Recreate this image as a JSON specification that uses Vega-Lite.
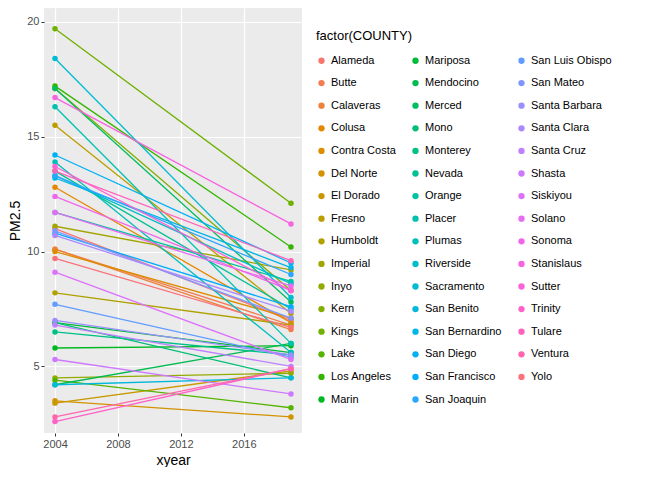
{
  "$schema": "https://vega.github.io/schema/vega-lite/v6.json",
  "width": 258,
  "height": 425,
  "padding": {"left": 8, "top": 8, "right": 0, "bottom": 0},
  "config": {
    "font": "Liberation Sans",
    "view": {"fill": "#EBEBEB", "stroke": null},
    "axis": {"gridColor": "#FFFFFF", "gridWidth": 1.2, "domain": false, "tickColor": "#333333", "tickSize": 3, "labelColor": "#4D4D4D", "labelFontSize": 11, "titleFontSize": 14, "titleFontWeight": "normal", "titleColor": "#000000"}
  },
  "data": {"values": [
    {"c":"Alameda","s":11.0,"e":7.0},{"c":"Butte","s":10.1,"e":6.8},{"c":"Calaveras","s":10.1,"e":6.6},
    {"c":"Colusa","s":12.8,"e":6.9},{"c":"Contra Costa","s":10.0,"e":7.1},{"c":"Del Norte","s":3.5,"e":2.8},
    {"c":"El Dorado","s":3.4,"e":4.8},{"c":"Fresno","s":15.5,"e":7.3},{"c":"Humboldt","s":8.2,"e":6.8},
    {"c":"Imperial","s":11.1,"e":9.2},{"c":"Inyo","s":4.5,"e":4.7},{"c":"Kern","s":17.1,"e":8.3},
    {"c":"Kings","s":19.7,"e":12.1},{"c":"Lake","s":4.4,"e":3.2},{"c":"Los Angeles","s":17.2,"e":10.2},
    {"c":"Marin","s":5.8,"e":5.9},{"c":"Mariposa","s":6.9,"e":5.6},{"c":"Mendocino","s":4.2,"e":6.0},
    {"c":"Merced","s":17.1,"e":7.8},{"c":"Mono","s":6.9,"e":4.5},{"c":"Monterey","s":6.5,"e":5.5},
    {"c":"Nevada","s":13.5,"e":7.5},{"c":"Orange","s":11.7,"e":8.7},{"c":"Placer","s":16.3,"e":6.0},
    {"c":"Plumas","s":13.9,"e":5.6},{"c":"Riverside","s":13.3,"e":8.6},{"c":"Sacramento","s":18.4,"e":8.0},
    {"c":"San Benito","s":4.2,"e":4.5},{"c":"San Bernardino","s":13.2,"e":9.3},{"c":"San Diego","s":14.2,"e":9.5},
    {"c":"San Francisco","s":10.8,"e":7.6},{"c":"San Joaquin","s":13.3,"e":9.0},{"c":"San Luis Obispo","s":7.7,"e":5.4},
    {"c":"San Mateo","s":10.9,"e":7.1},{"c":"Santa Barbara","s":7.0,"e":5.5},{"c":"Santa Clara","s":10.7,"e":7.4},
    {"c":"Santa Cruz","s":6.8,"e":5.0},{"c":"Shasta","s":5.3,"e":3.8},{"c":"Siskiyou","s":9.1,"e":5.3},
    {"c":"Solano","s":11.7,"e":8.5},{"c":"Sonoma","s":12.4,"e":8.3},{"c":"Stanislaus","s":16.7,"e":11.2},
    {"c":"Sutter","s":13.7,"e":8.3},{"c":"Trinity","s":2.6,"e":4.9},{"c":"Tulare","s":13.5,"e":9.6},
    {"c":"Ventura","s":2.8,"e":4.9},{"c":"Yolo","s":9.7,"e":6.7}
  ]},
  "transform": [{"fold": ["s", "e"], "as": ["k", "pm"]}, {"lookup": "k", "from": {"data": {"values": [{"k": "s", "yr": 2004}, {"k": "e", "yr": 2019}]}, "key": "k", "fields": ["yr"]}}],
  "encoding": {
    "x": {"field": "yr", "type": "quantitative", "title": "xyear", "scale": {"domain": [2003.3, 2019.7], "nice": false, "zero": false}, "axis": {"values": [2004, 2008, 2012, 2016], "format": "d"}},
    "y": {"field": "pm", "type": "quantitative", "title": "PM2.5", "scale": {"domain": [2.1, 20.6], "nice": false, "zero": false}, "axis": {"values": [5, 10, 15, 20]}},
    "color": {
      "field": "c", "type": "nominal", "title": "factor(COUNTY)",
      "scale": {
        "domain": ["Alameda","Butte","Calaveras","Colusa","Contra Costa","Del Norte","El Dorado","Fresno","Humboldt","Imperial","Inyo","Kern","Kings","Lake","Los Angeles","Marin","Mariposa","Mendocino","Merced","Mono","Monterey","Nevada","Orange","Placer","Plumas","Riverside","Sacramento","San Benito","San Bernardino","San Diego","San Francisco","San Joaquin","San Luis Obispo","San Mateo","Santa Barbara","Santa Clara","Santa Cruz","Shasta","Siskiyou","Solano","Sonoma","Stanislaus","Sutter","Trinity","Tulare","Ventura","Yolo"],
        "range": ["#F8766D","#F27D52","#EC823C","#E58700","#DC8D00","#D39200","#C99800","#BB9D00","#B0A100","#A2A600","#93AA00","#83AD00","#6FB000","#56B400","#34B600","#00B81F","#00BA38","#00BB4E","#00BD62","#00BE75","#00C086","#00C094","#00C1A2","#00C0AF","#00BFBB","#00BEC5","#00BBD1","#00B8DC","#00B5E7","#00B1F3","#00ACFC","#2AA6FF","#619CFF","#7F96FF","#998FFF","#AC88FF","#BE80FF","#CE78FF","#DC71FA","#E76BF3","#F066EA","#F763E0","#FC61D5","#FF61C9","#FF62BC","#FF64AF","#FB727B"]
      },
      "legend": {"orient": "none", "legendX": 272, "legendY": 22, "columns": 3, "symbolLimit": 0, "symbolType": "circle", "symbolSize": 40, "symbolStrokeWidth": 0, "labelFontSize": 11, "labelColor": "#000000", "titleFontSize": 13, "titleFontWeight": "normal", "titleColor": "#000000", "titlePadding": 12, "rowPadding": 10.6, "columnPadding": 14, "labelLimit": 120}
    },
    "detail": {"field": "c"}
  },
  "layer": [
    {"mark": {"type": "line", "strokeWidth": 1.3}},
    {"mark": {"type": "circle", "size": 30, "opacity": 1}}
  ]
}
